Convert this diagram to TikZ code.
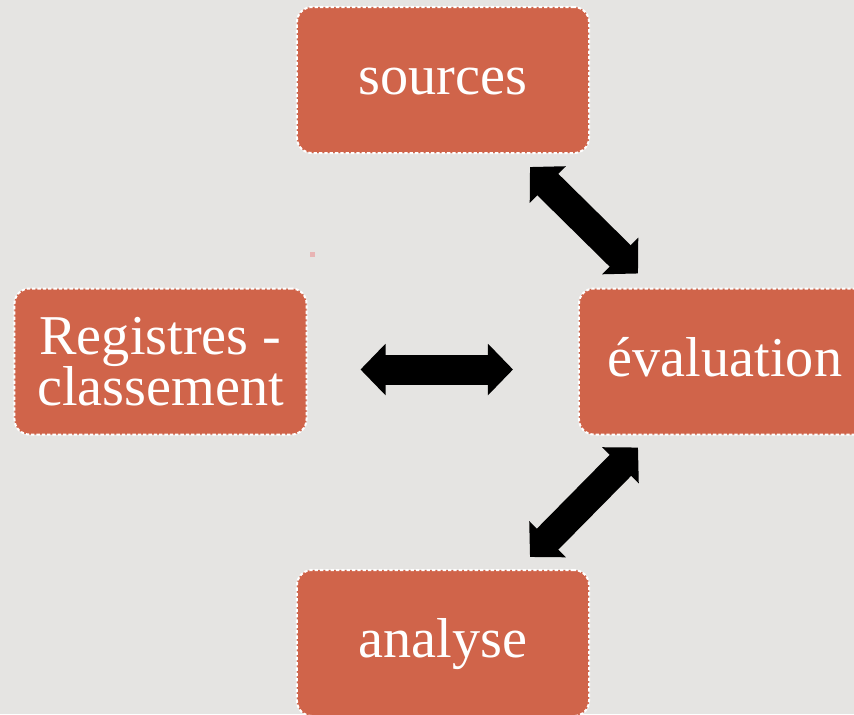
\documentclass[tikz,border=0pt]{standalone}
\usepackage{fontspec}
\setmainfont{Liberation Serif}
\usepackage{xcolor}
\usepackage{tikz}
\usetikzlibrary{arrows.meta}
\definecolor{fond}{HTML}{E5E4E2}
\definecolor{brique}{HTML}{D0644A}
\definecolor{pastille}{HTML}{E8B4B4}

\begin{document}
\begin{tikzpicture}
    [x=0.03cm, y=-0.03cm,
     Etape/.style={rectangle, rounded corners=0.45cm, fill=brique, draw=white,
       line width=0.06cm, dash pattern=on 0.1cm off 0.06cm,
       minimum width=8.76cm, minimum height=4.38cm, inner sep=0pt, outer sep=0pt,
       text=white, font=\fontsize{48}{44}\selectfont, align=center},
     Etape mot/.style={Etape, text height=0.88cm, text depth=0pt},
     Fleche/.style={{Triangle[length=0.75cm, width=1.5cm]}-{Triangle[length=0.75cm, width=1.5cm]},
       line width=0.9cm, color=black}
    ]
%fond et cadre de la page
\path[use as bounding box, fill=fond] (0,0) rectangle (854,714);
\clip (0,0) rectangle (854,714);
\fill[pastille] (310,252) rectangle (315,257);

%les quatre etapes
\node[Etape mot] (src)  at (443,80)      {sources};
\node[Etape mot] (eval) at (725,361.5)   {évaluation};
\node[Etape]     (reg)  at (160.5,361.5) {Registres -\\classement};
\node[Etape mot] (ana)  at (443,643)     {analyse};

%fleches doubles
\draw[Fleche] ([shift={(87,14)}]src.south) -- ([shift={(-87,-15)}]eval.north);
\draw[Fleche] ([shift={(54,8)}]reg.east) -- ([shift={(-66,8)}]eval.west);
\draw[Fleche] ([shift={(-87,13)}]eval.south) -- ([shift={(87,-13)}]ana.north);

\end{tikzpicture}
\end{document}
